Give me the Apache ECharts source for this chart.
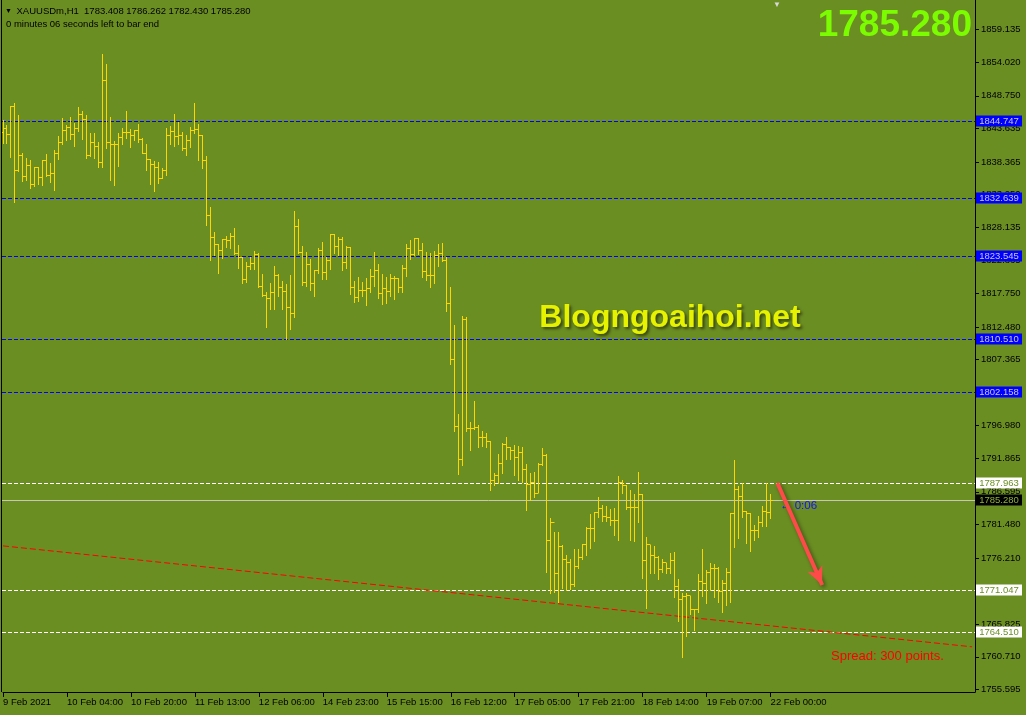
<!DOCTYPE html>
<html><head><meta charset="utf-8">
<script src="https://cdn.jsdelivr.net/npm/echarts@6/dist/echarts.min.js"></script>
<style>html,body{margin:0;padding:0;background:#6B8E23;}#c{width:1026px;height:715px;}</style>
</head><body><div id="c"></div>
<script>
// ---- data ----
const xTickLabels = ["9 Feb 2021","10 Feb 04:00","10 Feb 20:00","11 Feb 13:00","12 Feb 06:00","14 Feb 23:00","15 Feb 15:00","16 Feb 12:00","17 Feb 05:00","17 Feb 21:00","18 Feb 14:00","19 Feb 07:00","22 Feb 00:00"];
const xTickIndex = [0,16,32,48,64,80,96,112,128,144,160,176,192];
const yTickValues = [1859.135,1854.020,1848.750,1843.635,1838.365,1833.250,1828.135,1822.865,1817.750,1812.480,1807.365,1802.250,1796.980,1791.865,1786.595,1781.480,1776.210,1771.095,1765.825,1760.710,1755.595];

const highs = [1844.95,1844.16,1847.14,1847.56,1845.73,1839.71,1838.93,1838.67,1837.62,1837.62,
1838.67,1839.56,1838.14,1840.24,1842.43,1845.26,1844.16,1845.36,1844.42,1846.99,
1846.36,1845.73,1842.90,1842.90,1841.54,1855.30,1853.73,1845.36,1841.65,1842.96,
1843.69,1846.36,1843.48,1843.38,1844.32,1842.07,1841.18,1838.82,1838.51,1838.35,
1837.36,1843.64,1844.00,1845.89,1844.68,1843.06,1842.59,1843.79,1847.56,1844.26,
1842.59,1839.30,1831.34,1827.37,1825.48,1826.32,1826.69,1827.16,1827.94,1825.28,
1823.50,1822.66,1823.50,1824.39,1824.13,1820.78,1818.00,1819.42,1822.03,1820.78,
1819.68,1819.21,1820.62,1830.66,1829.41,1825.17,1824.23,1823.13,1821.40,1824.86,
1825.80,1823.50,1827.05,1827.05,1826.58,1826.53,1825.17,1825.01,1819.68,1820.31,
1819.47,1820.20,1821.56,1824.23,1822.35,1820.78,1820.25,1820.72,1820.46,1820.20,
1822.19,1825.49,1826.11,1826.43,1826.37,1825.64,1824.18,1824.07,1824.39,1825.49,
1825.69,1823.50,1818.74,1812.78,1798.81,1814.19,1813.98,1797.55,1800.85,1797.03,
1796.14,1795.77,1794.60,1789.50,1792.53,1794.21,1795.25,1793.68,1793.94,1793.84,
1793.68,1790.96,1789.60,1789.65,1791.07,1793.42,1792.50,1782.44,1780.34,1780.24,
1778.20,1776.68,1776.05,1777.57,1777.57,1778.46,1781.08,1783.17,1783.48,1785.73,
1784.53,1784.42,1783.85,1784.00,1789.13,1788.45,1787.70,1786.88,1786.20,1789.65,
1786.30,1779.45,1778.25,1778.09,1776.52,1776.05,1775.48,1777.05,1777.10,1772.91,
1770.77,1770.77,1770.25,1768.21,1773.70,1777.62,1774.33,1775.48,1775.27,1774.80,
1772.76,1774.59,1783.22,1791.59,1787.51,1788.03,1783.60,1783.22,1781.39,1782.80,
1784.37,1788.03,1786.26];

const lows = [1841.28,1841.39,1839.09,1832.13,1836.99,1835.42,1835.53,1834.22,1834.64,1834.90,
1834.74,1836.16,1835.27,1833.96,1838.88,1841.13,1841.81,1842.02,1840.86,1843.22,
1841.96,1838.98,1839.35,1838.98,1837.62,1837.62,1840.60,1835.53,1834.74,1837.73,
1841.18,1842.07,1840.76,1841.81,1841.54,1839.71,1837.10,1834.90,1833.86,1835.11,
1835.80,1836.31,1841.13,1840.86,1841.23,1840.24,1839.45,1840.76,1842.96,1838.67,
1837.46,1828.52,1822.97,1823.71,1820.99,1823.29,1825.07,1824.81,1823.92,1821.77,
1819.31,1819.57,1821.56,1821.56,1818.68,1817.38,1812.51,1815.28,1815.28,1817.38,
1815.34,1810.58,1812.15,1814.08,1824.02,1819.05,1818.89,1818.27,1817.32,1820.99,
1820.00,1820.00,1821.56,1824.02,1823.76,1821.40,1821.72,1817.69,1816.44,1816.59,
1817.38,1815.91,1818.00,1818.95,1816.96,1816.12,1816.28,1817.38,1816.85,1818.00,
1818.00,1820.52,1823.20,1823.71,1823.97,1820.31,1819.89,1818.79,1819.42,1822.03,
1822.82,1815.03,1806.71,1796.19,1789.44,1790.86,1796.19,1793.21,1796.40,1793.68,
1793.79,1793.68,1786.88,1787.67,1787.93,1789.50,1791.69,1791.75,1789.24,1788.45,
1788.19,1783.74,1785.31,1785.84,1786.62,1790.80,1774.01,1770.67,1770.93,1769.36,
1771.45,1771.19,1771.29,1771.82,1774.60,1776.11,1776.68,1777.73,1778.93,1782.70,
1782.02,1782.07,1781.39,1779.82,1779.03,1786.36,1783.85,1779.03,1778.93,1781.91,
1773.12,1768.42,1773.91,1773.91,1772.86,1774.07,1773.91,1773.91,1770.14,1766.38,
1760.73,1764.02,1767.42,1764.91,1767.79,1770.30,1769.20,1771.19,1770.14,1769.36,
1767.79,1768.84,1769.36,1777.99,1779.30,1782.70,1778.51,1777.36,1779.03,1779.56,
1781.23,1781.23,1782.43];

const closes = [1843.64,1842.70,1847.04,1836.99,1839.45,1836.05,1837.88,1834.90,1837.52,1835.95,
1838.56,1836.20,1836.58,1839.71,1841.49,1843.27,1843.79,1842.75,1843.58,1845.83,
1845.05,1839.35,1841.49,1840.86,1838.30,1851.22,1841.44,1841.13,1841.13,1842.22,
1843.06,1843.06,1842.59,1843.27,1841.96,1839.71,1838.82,1837.99,1837.52,1835.84,
1836.99,1842.59,1843.22,1842.33,1842.54,1840.50,1841.75,1843.32,1843.48,1842.49,
1838.56,1829.98,1826.53,1825.48,1824.44,1826.22,1826.01,1826.69,1824.02,1823.44,
1819.84,1821.98,1822.45,1823.86,1818.79,1817.43,1816.96,1817.90,1820.57,1818.63,
1818.06,1815.55,1814.60,1828.31,1824.18,1819.47,1822.29,1819.31,1821.35,1824.39,
1821.04,1822.92,1827.05,1825.07,1826.22,1822.56,1824.96,1818.68,1817.06,1818.21,
1818.21,1818.48,1820.41,1821.35,1817.74,1818.48,1818.00,1820.15,1820.10,1818.68,
1821.67,1824.81,1823.81,1826.32,1824.54,1821.14,1820.57,1820.57,1823.71,1824.02,
1822.87,1816.18,1807.39,1796.82,1791.59,1813.66,1796.56,1796.56,1796.72,1795.15,
1795.15,1794.47,1788.35,1789.08,1791.07,1794.10,1793.58,1793.05,1791.96,1792.74,
1790.02,1787.77,1788.03,1786.36,1790.91,1792.37,1779.03,1781.76,1773.70,1777.99,
1775.90,1775.48,1772.08,1774.85,1776.26,1778.25,1780.87,1780.87,1783.38,1783.90,
1782.70,1782.64,1782.17,1782.17,1788.03,1787.56,1784.16,1784.16,1784.16,1786.20,
1775.79,1778.25,1776.68,1776.32,1774.43,1775.48,1774.59,1775.84,1771.71,1769.62,
1770.14,1770.25,1768.05,1768.05,1772.50,1772.13,1773.96,1774.59,1774.59,1771.03,
1772.23,1773.96,1783.22,1786.99,1785.84,1783.48,1783.22,1780.50,1780.50,1781.76,
1783.48,1783.41,1785.28];

const opens = [1843.00,1843.64,1842.70,1847.04,1836.99,1839.45,1836.05,1837.88,1834.90,1837.52,
1835.95,1838.56,1836.20,1836.58,1839.71,1841.49,1843.27,1843.79,1842.75,1843.58,
1845.83,1845.05,1839.35,1841.49,1840.86,1838.30,1851.22,1841.44,1841.13,1841.13,
1842.22,1843.06,1843.06,1842.59,1843.27,1841.96,1839.71,1838.82,1837.99,1837.52,
1835.84,1836.99,1842.59,1843.22,1842.33,1842.54,1840.50,1841.75,1843.32,1843.48,
1842.49,1838.56,1829.98,1826.53,1825.48,1824.44,1826.22,1826.01,1826.69,1824.02,
1823.44,1819.84,1821.98,1822.45,1823.86,1818.79,1817.43,1816.96,1817.90,1820.57,
1818.63,1818.06,1815.55,1814.60,1828.31,1824.18,1819.47,1822.29,1819.31,1821.35,
1824.39,1821.04,1822.92,1827.05,1825.07,1826.22,1822.56,1824.96,1818.68,1817.06,
1818.21,1818.21,1818.48,1820.41,1821.35,1817.74,1818.48,1818.00,1820.15,1820.10,
1818.68,1821.67,1824.81,1823.81,1826.32,1824.54,1821.14,1820.57,1820.57,1823.71,
1824.02,1822.87,1816.18,1807.39,1796.82,1791.59,1813.66,1796.56,1796.56,1796.72,
1795.15,1795.15,1794.47,1788.35,1789.08,1791.07,1794.10,1793.58,1793.05,1791.96,
1792.74,1790.02,1787.77,1788.03,1786.36,1790.91,1792.37,1779.03,1781.76,1773.70,
1777.99,1775.90,1775.48,1772.08,1774.85,1776.26,1778.25,1780.87,1780.87,1783.38,
1783.90,1782.70,1782.64,1782.17,1782.17,1788.03,1787.56,1784.16,1784.16,1784.16,
1786.20,1775.79,1778.25,1776.68,1776.32,1774.43,1775.48,1774.59,1775.84,1771.71,
1769.62,1770.14,1770.25,1768.05,1768.05,1772.50,1772.13,1773.96,1774.59,1774.59,
1771.03,1772.23,1773.96,1783.22,1786.99,1785.84,1783.48,1783.22,1780.50,1780.50,
1781.76,1783.48,1783.408];

const blueLevels = [1844.747, 1832.639, 1823.545, 1810.510, 1802.158];
const whiteLevels = [1787.963, 1771.047, 1764.510];
const bidPrice = 1785.280;
const trendPoints = [[0, 1778.11], [242.4, 1762.27]];
const arrowFrom = [193.7, 1787.98];
const arrowTo = [204.9, 1771.97];
const headerLine1 = "XAUUSDm,H1  1783.408 1786.262 1782.430 1785.280";
const headerLine2 = "0 minutes 06 seconds left to bar end";

// ---- chart ----
const FONT = "'Liberation Sans', Arial, sans-serif";
const chart = echarts.init(document.getElementById('c'), null, {renderer: 'canvas'});

const barData = closes.map((c, i) => [i, opens[i], highs[i], lows[i], c]);
const levelData = [];
blueLevels.forEach(v => levelData.push([v, 'blue']));
whiteLevels.forEach(v => levelData.push([v, 'white']));
levelData.push([bidPrice, 'bid']);

function crisp(v) { return Math.round(v - 0.5) + 0.5; }

function renderBar(params, api) {
  const i = api.value(0);
  const pO = api.coord([i, api.value(1)]);
  const pH = api.coord([i, api.value(2)]);
  const pL = api.coord([i, api.value(3)]);
  const pC = api.coord([i, api.value(4)]);
  const x = crisp(pH[0]);
  const yO = crisp(pO[1]), yC = crisp(pC[1]);
  const st = {stroke: '#FFD700', lineWidth: 1};
  return {type: 'group', children: [
    {type: 'line', shape: {x1: x, y1: Math.round(pH[1]), x2: x, y2: Math.round(pL[1]) + 1}, style: st},
    {type: 'line', shape: {x1: x - 2.5, y1: yO, x2: x, y2: yO}, style: st},
    {type: 'line', shape: {x1: x, y1: yC, x2: x + 2.5, y2: yC}, style: st}
  ]};
}

function renderLevel(params, api) {
  const v = api.value(0);
  const kind = levelData[params.dataIndex][1];
  const cs = params.coordSys;
  const y = crisp(api.coord([0, v])[1]);
  let stroke, dash, boxFill, textFill;
  if (kind === 'blue') { stroke = '#0000FF'; dash = [4, 2]; boxFill = '#0000FF'; textFill = '#C8C8D8'; }
  else if (kind === 'white') { stroke = '#FFFFFF'; dash = [4, 2]; boxFill = '#FFFFFF'; textFill = '#6B8E23'; }
  else { stroke = '#C8C8B0'; dash = null; boxFill = '#000000'; textFill = '#8FAF3A'; }
  const right = cs.x + cs.width;
  return {type: 'group', children: [
    {type: 'line', shape: {x1: cs.x - 1, y1: y, x2: right, y2: y},
     style: {stroke: stroke, lineWidth: 1, lineDash: dash}},
    {type: 'rect', shape: {x: right + 1, y: y - 6, width: 46, height: 11}, style: {fill: boxFill}},
    {type: 'text', x: right + 24, y: y, style: {text: v.toFixed(3), fill: textFill,
      font: '9.5px ' + FONT, align: 'center', verticalAlign: 'middle'}}
  ]};
}

chart.setOption({
  backgroundColor: '#6B8E23',
  animation: false,
  grid: {left: 2.5, right: 51, top: 0, bottom: 23, containLabel: false},
  xAxis: {
    type: 'value', min: 0, max: 243.125,
    axisLine: {show: true, onZero: false, lineStyle: {color: '#000', width: 1}},
    axisTick: {show: true, length: 5, customValues: xTickIndex, lineStyle: {color: '#000'}},
    axisLabel: {show: true, customValues: xTickIndex, align: 'left', margin: 5,
      color: '#000', fontSize: 9.5, fontFamily: FONT,
      formatter: v => xTickLabels[xTickIndex.indexOf(v)] || ''},
    splitLine: {show: false}
  },
  yAxis: {
    type: 'value', position: 'right', min: 1755.18, max: 1863.78,
    axisLine: {show: true, onZero: false, lineStyle: {color: '#000', width: 1}},
    axisTick: {show: true, length: 4, customValues: yTickValues, lineStyle: {color: '#000'}},
    axisLabel: {show: true, customValues: yTickValues, margin: 6, color: '#000',
      fontSize: 9.5, fontFamily: FONT, formatter: v => v.toFixed(3)},
    splitLine: {show: false}
  },
  series: [
    {type: 'custom', name: 'levels', data: levelData.map(d => [d[0]]), encode: {y: 0},
     renderItem: renderLevel, z: 3, silent: true, clip: false},
    {type: 'line', name: 'trend', data: trendPoints, showSymbol: false, silent: true, z: 4,
     lineStyle: {color: '#FF0000', width: 1, type: [6, 3]},
     markLine: {silent: true, symbol: ['none', 'arrow'], symbolSize: [12, 18], label: {show: false},
       lineStyle: {color: '#FF4A4A', width: 4, type: 'solid', shadowColor: 'rgba(0,0,0,0.45)', shadowBlur: 4, shadowOffsetX: 2, shadowOffsetY: 2},
       itemStyle: {color: '#FF4A4A'},
       emphasis: {disabled: true},
       data: [[{coord: arrowFrom}, {coord: arrowTo}]]}},
    {type: 'custom', name: 'XAUUSDm', data: barData, encode: {x: 0, y: [1, 2, 3, 4]},
     renderItem: renderBar, z: 5, silent: true}
  ],
  graphic: [
    {type: 'line', shape: {x1: 1.5, y1: 0, x2: 1.5, y2: 692}, style: {stroke: '#000', lineWidth: 1}, z: 10},
    {type: 'text', x: 5, y: 11, style: {text: '▼', fill: '#000', font: '7px ' + FONT, verticalAlign: 'middle'}},
    {type: 'text', x: 16.5, y: 11, style: {text: headerLine1, fill: '#000', font: '9.5px ' + FONT, verticalAlign: 'middle'}},
    {type: 'text', x: 6, y: 24, style: {text: headerLine2, fill: '#000', font: '9.5px ' + FONT, verticalAlign: 'middle'}},
    {type: 'text', x: 777, y: 5, style: {text: '▼', fill: '#D8D8D8', font: '8px ' + FONT, align: 'center', verticalAlign: 'middle'}},
    {type: 'text', x: 972, y: 26, style: {text: bidPrice.toFixed(3), fill: '#7CFC00', font: 'bold 37px ' + FONT, align: 'right', verticalAlign: 'middle'}},
    {type: 'text', x: 670, y: 318, z: 20, style: {text: 'Blogngoaihoi.net', fill: '#E6F200', font: 'bold 32px ' + FONT,
      align: 'center', verticalAlign: 'middle', textShadowColor: 'rgba(20,20,0,0.6)', textShadowBlur: 3, textShadowOffsetX: 2, textShadowOffsetY: 2}},
    {type: 'text', x: 831, y: 656, style: {text: 'Spread: 300 points.', fill: '#FF0000', font: '13px ' + FONT, verticalAlign: 'middle'}},
    {type: 'text', x: 780, y: 506, style: {text: '← 0:06', fill: '#1010FF', font: '11.5px ' + FONT, verticalAlign: 'middle'}}
  ]
});
</script>
</body></html>
